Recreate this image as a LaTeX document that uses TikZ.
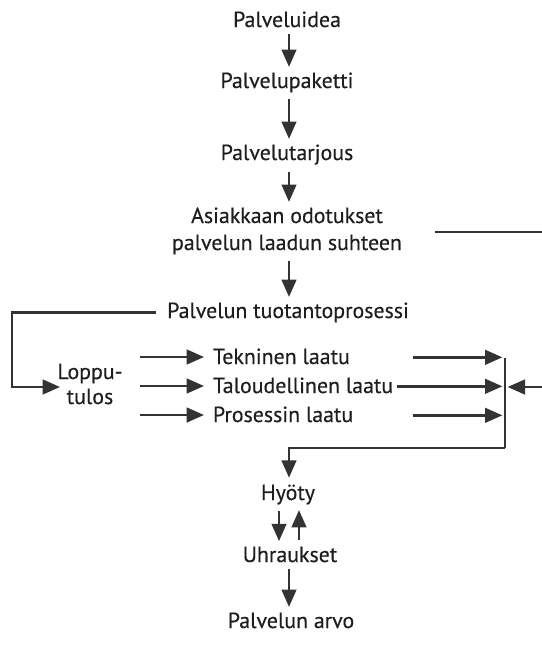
\documentclass[tikz,border=0pt]{standalone}
\usepackage{fontspec}
\setmainfont{PT Sans}[FakeBold=0.35]
\usetikzlibrary{arrows.meta,calc}
\definecolor{ink}{HTML}{1E1E1E}
\definecolor{ln}{HTML}{333333}
\begin{document}
\begin{tikzpicture}[x=0.75pt,y=-0.75pt,
  lbl/.style={inner sep=2pt, text=ink, font=\fontsize{16.4}{20}\selectfont, align=center},
  ln/.style={draw=ln, line width=1.8pt},
  arr/.style={ln, -{Triangle[width=11pt,length=13pt]}},
  varr/.style={arr, shorten <=3pt, shorten >=2pt},
]
\useasboundingbox (0,0) rectangle (542,646);
\node[lbl, anchor=base] (n1) at (287,27) {Palveluidea};
\node[lbl, anchor=base] (n2) at (287,88) {Palvelupaketti};
\node[lbl, anchor=base] (n3) at (287,160) {Palvelutarjous};
\node[lbl, anchor=base] (n4a) at (287,223) {Asiakkaan odotukset};
\node[lbl, anchor=base] (n4b) at (287,250) {palvelun laadun suhteen};
\node[lbl, anchor=base] (n5) at (288,318) {Palvelun tuotantoprosessi};
\node[lbl, anchor=base] (lop1) at (90,379) {Loppu-};
\node[lbl, anchor=base] (lop2) at (90,404) {tulos};
\node[lbl, anchor=base west] (t1) at (210,364) {Tekninen laatu};
\node[lbl, anchor=base west] (t2) at (210,393) {Taloudellinen laatu};
\node[lbl, anchor=base west] (t3) at (210,422) {Prosessin laatu};
\node[lbl, anchor=base] (hy) at (288,500) {Hyöty};
\node[lbl, anchor=base] (uh) at (290,562) {Uhraukset};
\node[lbl, anchor=base] (pa) at (291,628) {Palvelun arvo};

\coordinate (col) at (289,0);
\coordinate (rt) at (542,232);
\coordinate (re) at (542,387);
\coordinate (vtop) at (505,358);
\coordinate (vbot) at (505,448);
\coordinate (rs) at (413,0);
\coordinate (lx) at (12,0);
\coordinate (lopc) at (60,387);

\draw[varr] (n1.south -| col) -- (n2.north -| col);
\draw[varr] (n2.south -| col) -- (n3.north -| col);
\draw[varr] (n3.south -| col) -- (n4a.north -| col);
\draw[varr] (n4b.south -| col) -- (n5.north -| col);
\draw[ln] (n4b.east |- rt) ++(30,0) -- (rt);
\draw[arr, shorten <=6pt] (n5.west) -- (n5.west -| lx) |- (lopc);
\draw[arr] (140,0 |- t1.base) ++(0,-7) -- ++(64,0);
\draw[arr] (140,0 |- t2.base) ++(0,-7) -- ++(64,0);
\draw[arr] (140,0 |- t3.base) ++(0,-7) -- ++(64,0);
\draw[arr, shorten >=2pt] ([yshift=5pt]t1.base east -| rs) -- ([yshift=5pt]t1.base east -| vtop);
\draw[arr, shorten <=1pt, shorten >=2pt] ([yshift=5pt]t2.base east) -- ([yshift=5pt]t2.base east -| vtop);
\draw[arr, shorten >=2pt] ([yshift=5pt]t3.base east -| rs) -- ([yshift=5pt]t3.base east -| vtop);
\draw[arr, shorten >=2pt] (re) -- (re -| vtop);
\draw[ln] (vtop) -- (vbot);
\draw[arr, shorten >=3pt] (vbot) -| (hy.north -| col);
\draw[varr] ([xshift=-7.5pt]hy.south -| col) -- ([xshift=-7.5pt]uh.north -| col);
\draw[varr] ([xshift=7.5pt]uh.north -| col) -- ([xshift=7.5pt]hy.south -| col);
\draw[varr] (uh.south -| col) -- (pa.north -| col);
\end{tikzpicture}
\end{document}
